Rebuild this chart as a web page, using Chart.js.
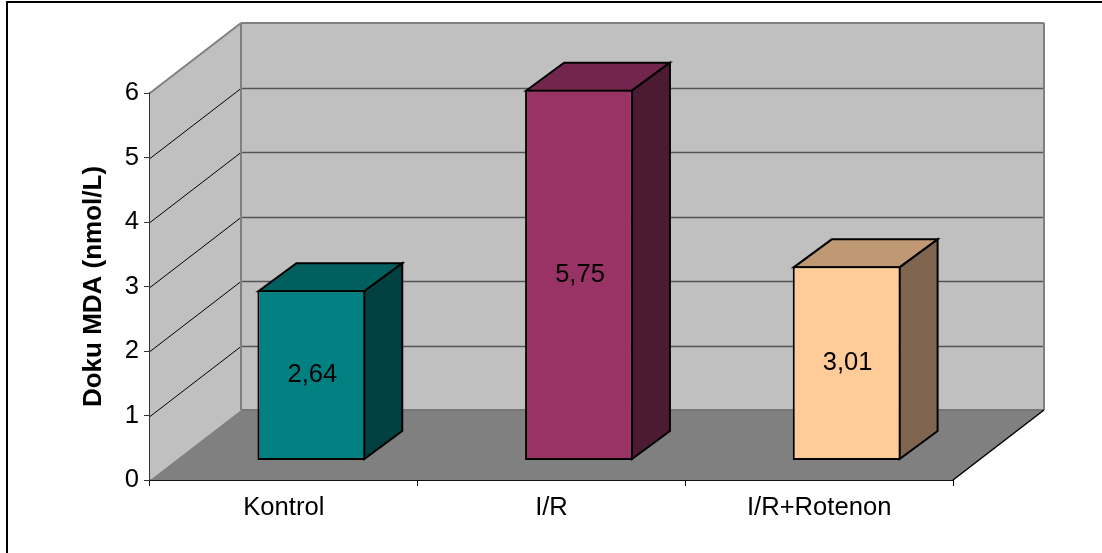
<!DOCTYPE html>
<html>
<head>
<meta charset="utf-8">
<title>Doku MDA</title>
<script src="https://cdn.jsdelivr.net/npm/chart.js@4/dist/chart.umd.min.js"></script>
<style>
  html, body { margin: 0; padding: 0; background: #fff; }
  canvas { display: block; }
</style>
</head>
<body>
<canvas id="c" width="1102" height="553"></canvas>
<script>
const categories = ['Kontrol', 'I/R', 'I/R+Rotenon'];
const mdaValues = [2.64, 5.75, 3.01];
const valueLabels = ['2,64', '5,75', '3,01'];
const yTicks = [0, 1, 2, 3, 4, 5, 6];
const faceColors = ['#008080', '#993366', '#FFCC99'];
const topColors = ['#006060', '#73264D', '#BF9973'];
const sideColors = ['#004040', '#4D1A33', '#806650'];

const FONT = '"Liberation Sans", Arial, sans-serif';
// depth of the floor and wall box, and where the bars stand inside it
const BOX_DX = 91, BOX_DY = -70;
const BAR_DX = 27.5, BAR_DY = -19.5;
const BAR_DEPTH_X = 38, BAR_DEPTH_Y = -28;

function poly(ctx, pts, fill, stroke, width) {
  ctx.beginPath();
  pts.forEach((p, i) => (i ? ctx.lineTo(p[0], p[1]) : ctx.moveTo(p[0], p[1])));
  ctx.closePath();
  if (fill) { ctx.fillStyle = fill; ctx.fill(); }
  if (stroke) { ctx.strokeStyle = stroke; ctx.lineWidth = width; ctx.lineJoin = 'miter'; ctx.stroke(); }
}

function seg(ctx, x1, y1, x2, y2, color, width) {
  ctx.beginPath();
  ctx.moveTo(x1, y1);
  ctx.lineTo(x2, y2);
  ctx.strokeStyle = color;
  ctx.lineWidth = width;
  ctx.stroke();
}

/** Side wall, back wall and floor, placed from the axis scales. */
const boxPlugin = {
  id: 'box',
  beforeDraw(chart) {
    // outer chart frame: top and left edges only
    const { ctx, width } = chart;
    ctx.save();
    seg(ctx, 6, 2, width, 2, '#000', 2);
    seg(ctx, 7, 1, 7, chart.height, '#000', 2);
    ctx.restore();
  },
  beforeDatasetsDraw(chart) {
    const { ctx, scales: { x, y } } = chart;
    const l = x.left, r = x.right;
    const y0 = y.getPixelForValue(0), yTop = y.getPixelForValue(6);
    const bl = l + BOX_DX, br = r + BOX_DX;
    ctx.save();
    poly(ctx, [[l, y0], [bl, y0 + BOX_DY], [bl, yTop + BOX_DY], [l, yTop]], '#C0C0C0');
    poly(ctx, [[bl, y0 + BOX_DY], [br, y0 + BOX_DY], [br, yTop + BOX_DY], [bl, yTop + BOX_DY]], '#C0C0C0');
    poly(ctx, [[l, y0], [r, y0], [br, y0 + BOX_DY], [bl, y0 + BOX_DY]], '#808080');

    yTicks.forEach(v => {
      if (v === 0 || v === 6) return;
      const py = Math.round(y.getPixelForValue(v));
      seg(ctx, l, py + 0.5, bl, py + BOX_DY + 0.5, '#000', 1);
      seg(ctx, bl, py + BOX_DY + 0.5, br, py + BOX_DY + 0.5, '#555', 1.5);
    });

    // wall outline
    seg(ctx, l, yTop, bl, yTop + BOX_DY, '#808080', 2);
    seg(ctx, bl, yTop + BOX_DY, br, yTop + BOX_DY, '#808080', 2);
    seg(ctx, bl, yTop + BOX_DY, bl, y0 + BOX_DY, '#808080', 2);
    seg(ctx, br, yTop + BOX_DY, br, y0 + BOX_DY, '#808080', 2);
    seg(ctx, bl, y0 + BOX_DY, br, y0 + BOX_DY, '#777', 2);
    seg(ctx, r, y0, br, y0 + BOX_DY, '#000', 1.5);
    ctx.restore();

    // bars stand back from the front edge, so shift the whole dataset layer
    ctx.save();
    ctx.translate(BAR_DX, BAR_DY);
    chart.getDatasetMeta(0).data.forEach((bar, i) => {
      const { x: cx, y: top, base, width } = bar.getProps(['x', 'y', 'base', 'width'], true);
      const a = cx - width / 2 + 1, b = cx + width / 2 - 1;
      poly(ctx, [[a, top + 1], [b, top + 1], [b + BAR_DEPTH_X, top + 1 + BAR_DEPTH_Y], [a + BAR_DEPTH_X, top + 1 + BAR_DEPTH_Y]], topColors[i], '#000', 2);
      poly(ctx, [[b, top + 1], [b + BAR_DEPTH_X, top + 1 + BAR_DEPTH_Y], [b + BAR_DEPTH_X, base - 1 + BAR_DEPTH_Y], [b, base - 1]], sideColors[i], '#000', 2);
    });
  },
  afterDatasetsDraw(chart) {
    const ctx = chart.ctx;
    ctx.restore();
    ctx.save();
    ctx.font = '25.5px ' + FONT;
    ctx.fillStyle = '#000';
    ctx.textAlign = 'center';
    ctx.textBaseline = 'middle';
    chart.getDatasetMeta(0).data.forEach((bar, i) => {
      const { x: cx, y: top, base } = bar.getProps(['x', 'y', 'base'], true);
      ctx.fillText(valueLabels[i], cx + BAR_DX + 1, (top + base) / 2 + BAR_DY);
    });
    ctx.restore();
  },
};

new Chart(document.getElementById('c'), {
  type: 'bar',
  data: {
    labels: categories,
    datasets: [{
      data: mdaValues,
      backgroundColor: faceColors,
      borderColor: '#000',
      borderWidth: 2,
      borderSkipped: false,
      barPercentage: 0.403,
      categoryPercentage: 1,
      clip: false,
    }],
  },
  options: {
    responsive: false,
    animation: false,
    layout: { padding: { top: 93, right: 149 } },
    plugins: { legend: { display: false }, tooltip: { enabled: false } },
    scales: {
      x: {
        grid: { drawOnChartArea: false, offset: true, color: '#000', tickLength: 6 },
        border: { color: '#111', width: 2 },
        ticks: { color: '#000', font: { family: FONT, size: 25.6 }, padding: 7, maxRotation: 0 },
        afterFit(s) { s.height = 73; },
      },
      y: {
        min: 0,
        max: 6,
        grid: { drawOnChartArea: false, color: '#333', tickLength: 6 },
        border: { color: '#333', width: 1.5 },
        afterBuildTicks(s) { s.ticks = yTicks.map(value => ({ value })); },
        ticks: { color: '#000', font: { family: FONT, size: 25.6 }, padding: 5 },
        title: {
          display: true,
          text: 'Doku MDA (nmol/L)',
          color: '#000',
          font: { family: FONT, size: 26, weight: 'bold' },
          padding: { top: 78, bottom: 0 },
        },
        afterFit(s) { s.width = 150; },
      },
    },
  },
  plugins: [boxPlugin],
});
</script>
</body>
</html>
